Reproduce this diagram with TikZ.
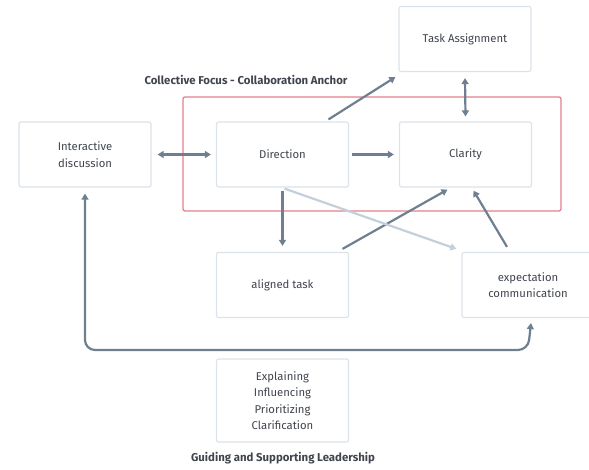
\documentclass[tikz,border=0pt]{standalone}
\usepackage{fontspec}
\setmainfont{Fira Sans}
\usetikzlibrary{arrows.meta}
\definecolor{boxline}{HTML}{DCE3EA}
\definecolor{arrowc}{HTML}{6F7F90}
\definecolor{lightarrow}{HTML}{C3D0DC}
\definecolor{anchorred}{HTML}{E3808C}
\definecolor{textc}{HTML}{40454D}
\begin{document}
\begin{tikzpicture}[x=1pt,y=-1pt,
  card/.style={draw=boxline, line width=1.2pt, rounded corners=2pt, fill=white,
    minimum width=132pt, minimum height=65pt, align=center,
    font=\fontsize{11.3}{16.5}\selectfont, text=textc, inner sep=0pt},
  conn/.style={draw=arrowc, line width=2.2pt, -{Triangle[length=6pt,width=7pt]}},
  biconn/.style={conn, {Triangle[length=6pt,width=7pt]}-{Triangle[length=6pt,width=7pt]}},
  caption/.style={font=\fontsize{11.4}{12}\selectfont\bfseries, text=textc}]
\useasboundingbox (0,0) rectangle (589,469);
% group frame
\draw[anchorred, line width=1.3pt, rounded corners=2pt] (183,97) rectangle (561,211);
\node[caption] (anchorlbl) at (246,80) {Collective Focus - Collaboration Anchor};
% cards
\node[card] (task) at (465,39) {Task Assignment};
\node[card] (inter) at (85,154.5) {Interactive\\discussion};
\node[card] (dir) at (282.5,154.5) {Direction};
\node[card] (clar) at (465.5,154.5) {Clarity};
\node[card] (aligned) at (282.5,285) {aligned task};
\node[card] (expect) at (528,285) {expectation\\communication};
\node[card, minimum height=83pt] (lead) at (282.5,400.5) {Explaining\\Influencing\\Prioritizing\\Clarification};
\node[caption] (leadlbl) at (283,458) {Guiding and Supporting Leadership};
% connectors
\draw[biconn] ([xshift=6pt]inter.east) -- ([xshift=-5pt]dir.west);
\draw[conn] ([xshift=3pt]dir.east) -- ([xshift=-5pt]clar.east -| clar.west);
\draw[conn] ([xshift=46pt,yshift=2pt]dir.north) -- ([xshift=-3pt,yshift=-5pt]task.south west);
\draw[biconn] ([yshift=-6pt]task.south) -- ([yshift=5pt]clar.north);
\draw[conn] ([yshift=-3pt]dir.south) -- ([yshift=6pt]aligned.north);
\draw[conn] ([xshift=60pt,yshift=3pt]aligned.north) -- ([xshift=-18pt,yshift=-2pt]clar.south);
\draw[conn, draw=lightarrow] ([xshift=2pt,yshift=-1pt]dir.south) -- ([xshift=-5pt,yshift=3pt]expect.north west);
\draw[conn] ([xshift=-21pt,yshift=5pt]expect.north) -- ([xshift=8pt,yshift=-3pt]clar.south);
\draw[biconn, rounded corners=10pt] ([yshift=-6pt]inter.south) -- (inter.south |- 0,350) -- (expect.south |- 0,350) -- ([xshift=3pt,yshift=-5pt]expect.south);
\end{tikzpicture}
\end{document}
